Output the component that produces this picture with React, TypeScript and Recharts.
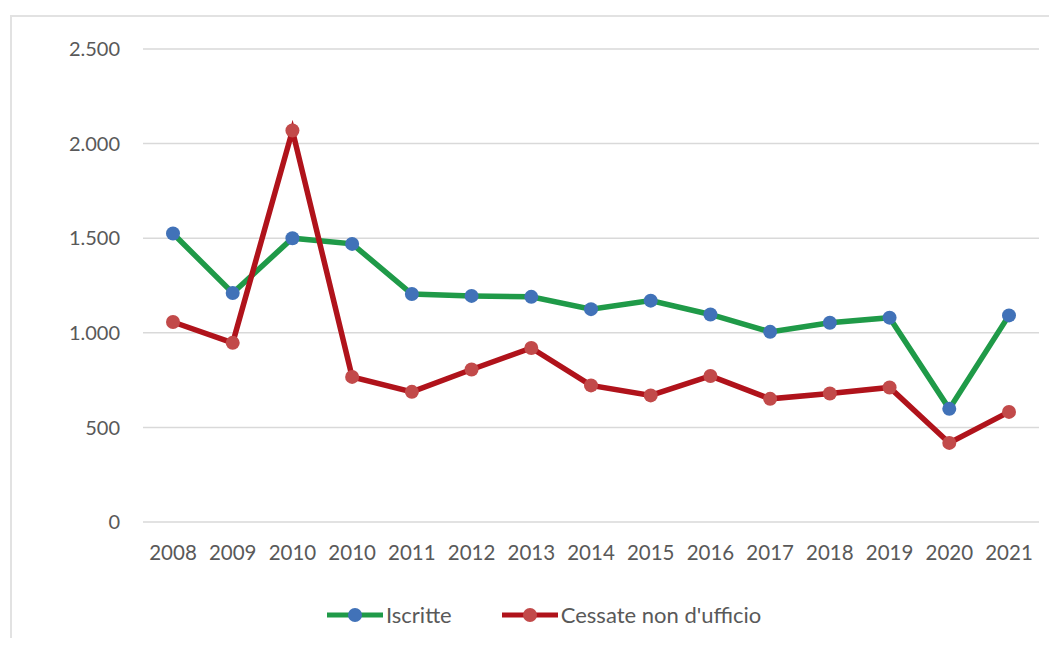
import React from 'react';
import { LineChart, Line, XAxis, YAxis, CartesianGrid } from 'recharts';

const years = ['2008', '2009', '2010', '2010', '2011', '2012', '2013', '2014', '2015', '2016', '2017', '2018', '2019', '2020', '2021'];
const iscritte = [1525, 1210, 1500, 1470, 1205, 1195, 1190, 1125, 1170, 1097, 1005, 1053, 1080, 598, 1092];
const cessate = [1057, 947, 2069, 767, 688, 806, 920, 722, 669, 772, 651, 679, 711, 418, 582];
const yTicks = [0, 500, 1000, 1500, 2000, 2500];

const GREEN = '#1f9a48';
const BLUE = '#4172b8';
const RED = '#b0131b';
const RED_DOT = '#c24a4a';
const FONT = 'Lato, "Open Sans", sans-serif';

const data = years.map((year, i) => ({ year, iscritte: iscritte[i], cessate: cessate[i] }));

const fmt = (v: number) => v.toLocaleString('it-IT');

const LegendItem = ({ line, dot, label }: { line: string; dot: string; label: string }) => (
  <div style={{ display: 'flex', alignItems: 'center' }}>
    <svg width={56} height={16}>
      <line x1={0} y1={8} x2={56} y2={8} stroke={line} strokeWidth={5} />
      <circle cx={28} cy={8} r={7} fill={dot} />
    </svg>
    <span style={{ marginLeft: 3, color: '#595959', fontSize: 22, fontFamily: FONT }}>{label}</span>
  </div>
);

export default function App() {
  return (
    <div style={{ position: 'relative', width: 1057, height: 646, margin: -8, background: '#fff' }}>
      <div
        style={{
          position: 'absolute',
          left: 10,
          top: 15,
          right: 0,
          bottom: 2,
          borderLeft: '2px solid #e2e2e2',
          borderTop: '2px solid #e2e2e2',
          borderBottom: '1px solid #eeeeee',
        }}
      />
      <LineChart
        width={1057}
        height={646}
        data={data}
        margin={{ top: 49, right: 18, bottom: 94, left: 83 }}
        style={{ position: 'absolute', left: 0, top: 0 }}
      >
        <CartesianGrid vertical={false} stroke="#d9d9d9" strokeWidth={1.5} />
        <XAxis
          dataKey="year"
          height={30}
          tickLine={false}
          axisLine={false}
          interval={0}
          padding={{ left: 30, right: 30 }}
          tickMargin={17}
          tick={{ fill: '#595959', fontSize: 20.5, fontFamily: FONT }}
        />
        <YAxis
          width={60}
          domain={[0, 2500]}
          ticks={yTicks}
          tickFormatter={fmt}
          tickLine={false}
          axisLine={false}
          tickMargin={17}
          tick={{ fill: '#595959', fontSize: 20, fontFamily: FONT }}
        />
        <Line
          dataKey="iscritte"
          name="Iscritte"
          stroke={GREEN}
          strokeWidth={5.5}
          dot={{ r: 7, fill: BLUE, stroke: BLUE, strokeWidth: 0 }}
          activeDot={false}
          isAnimationActive={false}
        />
        <Line
          dataKey="cessate"
          name="Cessate non d'ufficio"
          stroke={RED}
          strokeWidth={5.5}
          dot={{ r: 7, fill: RED_DOT, stroke: RED_DOT, strokeWidth: 0 }}
          activeDot={false}
          isAnimationActive={false}
        />
      </LineChart>
      <div style={{ position: 'absolute', left: 327, top: 601, display: 'flex', gap: 50 }}>
        <LegendItem line={GREEN} dot={BLUE} label="Iscritte" />
        <LegendItem line={RED} dot={RED_DOT} label="Cessate non d'ufficio" />
      </div>
    </div>
  );
}
